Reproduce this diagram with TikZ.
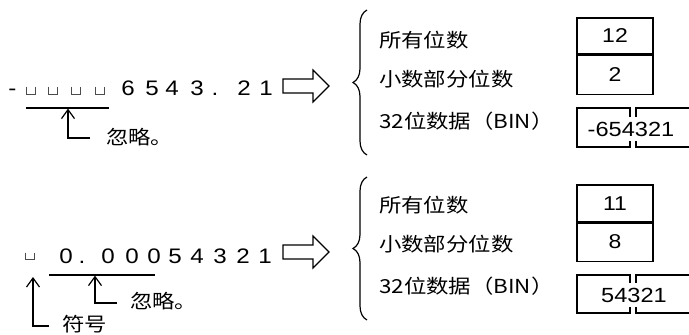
\documentclass[tikz,border=0pt]{standalone}
\usepackage{fontspec}
\setmainfont{Liberation Sans}[FakeStretch=1.15]
\newfontfamily\cjk{Noto Sans CJK SC}[FakeStretch=1.16]
\usetikzlibrary{arrows.meta, decorations.pathreplacing}
\tikzset{
    digit/.style={font=\fontsize{21}{25}\selectfont, inner sep=0pt, anchor=base},
    zh/.style={font=\cjk\fontsize{19.3}{23}\selectfont, inner sep=0pt, anchor=west},
    field/.style={draw, line width=1.1pt, minimum width=76pt, inner sep=0pt,
        font=\fontsize{20}{24}\selectfont},
    rule/.style={line width=1.2pt},
    pointer/.style={line width=1.2pt, -{Straight Barb[length=9pt, width=13pt]}},
    blank/.style={gray!60!black, line width=1pt},
    cover/.style={fill=white, inner xsep=1pt, inner ysep=5pt,
        font=\fontsize{20.5}{24}\selectfont},
}
\newcommand{\zhtext}[1]{{\cjk\fontsize{19.3}{23}\selectfont #1}}

\begin{document}
\begin{tikzpicture}[x=1pt, y=-1pt]
    \useasboundingbox (0,0) rectangle (689,335);

    % negative value with leading blanks
    \node[digit] (minus) at (12.5,95) {-};
    \foreach \x in {31,53,76,100}
        \draw[blank] (\x-4.5,86.5) -- (\x-4.5,94.5) -- (\x+4.5,94.5) -- (\x+4.5,86.5);
    \foreach \x/\c [count=\i] in {128/6,152/5,172/4,197/3,215/.,244/2,266/1}
        \node[digit] (topch\i) at (\x,95) {\c};
    \coordinate (topSkipL) at (26,108);
    \coordinate (topSkipR) at (109,108);
    \draw[rule] (topSkipL) -- (topSkipR);
    \node[zh] (topNote) at (106,137) {忽略。};
    \coordinate (topFoot) at (90,138);
    \coordinate (topBend) at (68,138);
    \coordinate (topTip) at (68,108.6);
    \draw[pointer] (topFoot) -- (topBend) -- (topTip);

    % small positive value
    \draw[blank] (25.5,252.5) -- (25.5,259.5) -- (34.5,259.5) -- (34.5,252.5);
    \foreach \x/\c [count=\i] in {66/0,82/.,108/0,132/0,154/0,175/5,197/4,220/3,243/2,265/1}
        \node[digit] (botch\i) at (\x,263) {\c};
    \coordinate (botSkipL) at (49,275);
    \coordinate (botSkipR) at (155,275);
    \draw[rule] (botSkipL) -- (botSkipR);
    \node[zh] (botNote) at (130,301) {忽略。};
    \coordinate (botFoot) at (117,303);
    \coordinate (botBend) at (95,303);
    \coordinate (botTip) at (95,275.6);
    \draw[pointer] (botFoot) -- (botBend) -- (botTip);
    \node[zh] (signNote) at (62,324) {符号};
    \coordinate (signFoot) at (49,326);
    \coordinate (signBend) at (33,326);
    \coordinate (signTip) at (33,277);
    \draw[pointer] (signFoot) -- (signBend) -- (signTip);

    % hollow arrows
    \foreach \y in {86,252}
        \draw[line width=1.1pt, line join=miter] (283,\y-7) -- (313,\y-7) -- (313,\y-16)
            -- (329,\y) -- (313,\y+16) -- (313,\y+7) -- (283,\y+7) -- cycle;

    % braces
    \draw[rule, decorate, decoration={brace, amplitude=14pt}] (367,155) -- (367,10);
    \draw[rule, decorate, decoration={brace, amplitude=14pt}] (367,320) -- (367,177);

    % results, upper case
    \node[zh] (allA) at (379,40) {所有位数};
    \node[zh] (fracA) at (379,79) {小数部分位数};
    \node[zh] (binA) at (379,121) {32\zhtext{位数据（}BIN\zhtext{）}};
    \node[field, minimum height=36pt] (allValA) at (615,36) {12};
    \node[field, minimum height=39pt, anchor=north] (fracValA) at (allValA.south) {2};
    \draw[rule] (577,108) rectangle (630,147);
    \draw[rule] (689.5,108) -- (636,108) -- (636,147) -- (689.5,147);
    \node[cover] (binValA) at (631,129) {-654321};

    % results, lower case
    \node[zh] (allB) at (379,205) {所有位数};
    \node[zh] (fracB) at (379,244) {小数部分位数};
    \node[zh] (binB) at (379,286) {32\zhtext{位数据（}BIN\zhtext{）}};
    \node[field, minimum height=37pt] (allValB) at (615,203.5) {11};
    \node[field, minimum height=38pt, anchor=north] (fracValB) at (allValB.south) {8};
    \draw[rule] (577,275) rectangle (630,313);
    \draw[rule] (689.5,275) -- (636,275) -- (636,313) -- (689.5,313);
    \node[cover] (binValB) at (634,295) {54321};
\end{tikzpicture}
\end{document}
